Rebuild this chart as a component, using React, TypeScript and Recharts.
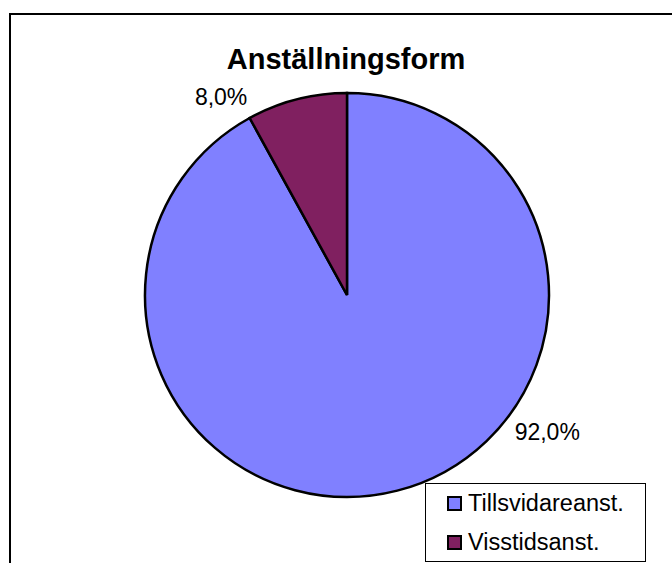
import { PieChart, Pie, Cell, Legend } from "recharts"

const categories = ["Tillsvidareanst.", "Visstidsanst."]
const shares = [92.0, 8.0]
const sliceColors = ["#8080FF", "#802060"]

const chartTitle = "Anställningsform"

const data = categories.map((name, i) => ({ name, value: shares[i] }))

const FONT = "Arial, 'Liberation Sans', sans-serif"

// label placement (degrees / radius factor), tuned to the reference
const labelAngles = [-34.3, 122.5]
const labelRadius = [1.2, 1.16]

const formatPct = (v: number) => v.toFixed(1).replace(".", ",") + "%"

function renderLabel(props: any) {
  const { cx, cy, outerRadius, index, value } = props
  const rad = (labelAngles[index] * Math.PI) / 180
  const r = outerRadius * labelRadius[index]
  const x = cx + r * Math.cos(rad)
  const y = cy - r * Math.sin(rad)
  return (
    <text
      x={x}
      y={y}
      fill="#000"
      fontSize={23}
      fontFamily={FONT}
      textAnchor="middle"
      dominantBaseline="central"
    >
      {formatPct(value)}
    </text>
  )
}

function LegendBox() {
  return (
    <div
      style={{
        width: 219,
        height: 77,
        border: "1px solid #000",
        background: "#fff",
        fontFamily: FONT,
        fontSize: 23.5,
      }}
    >
      {categories.map((name, i) => (
        <div
          key={name}
          style={{ height: 39, display: "flex", alignItems: "center", paddingLeft: 21 }}
        >
          <span
            style={{
              display: "inline-block",
              width: 11,
              height: 11,
              border: "2px solid #000",
              background: sliceColors[i],
              marginRight: 6,
            }}
          />
          <span style={{ color: "#000" }}>{name}</span>
        </div>
      ))}
    </div>
  )
}

export default function App() {
  return (
    <div style={{ position: "absolute", left: 0, top: 0, width: 672, height: 563, overflow: "hidden", background: "#fff" }}>
      <div
        style={{
          position: "absolute",
          left: 9,
          top: 13,
          width: 700,
          height: 600,
          borderTop: "2px solid #000",
          borderLeft: "2px solid #000",
          boxSizing: "border-box",
        }}
      />
      <div
        style={{
          position: "absolute",
          left: 0,
          top: 42,
          width: 692,
          textAlign: "center",
          fontFamily: FONT,
          fontWeight: "bold",
          fontSize: 29,
          lineHeight: "34px",
          color: "#000",
        }}
      >
        {chartTitle}
      </div>
      <div style={{ position: "absolute", left: 0, top: 0 }}>
        <PieChart width={672} height={563} margin={{ top: 0, right: 0, bottom: 0, left: 0 }}>
          <Pie
            data={data}
            dataKey="value"
            nameKey="name"
            cx={347}
            cy={295}
            outerRadius={202}
            startAngle={90}
            endAngle={-270}
            stroke="#000"
            strokeWidth={2.5}
            label={renderLabel}
            labelLine={false}
            isAnimationActive={false}
          >
            {data.map((entry, index) => (
              <Cell key={`cell-${index}`} fill={sliceColors[index]} />
            ))}
          </Pie>
          <Legend
            content={() => <LegendBox />}
            wrapperStyle={{ position: "absolute", left: 425, top: 483, width: 221, height: 79 }}
          />
        </PieChart>
      </div>
    </div>
  )
}
